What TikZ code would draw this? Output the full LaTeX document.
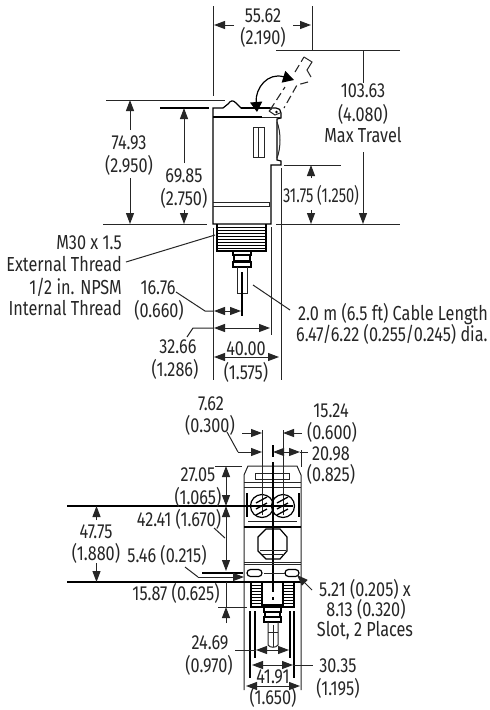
\documentclass[tikz,border=0pt]{standalone}
\usepackage{fontspec}
\setmainfont[FakeStretch=0.80,Numbers=Proportional]{Fira Sans}
\newfontfamily\tightfont[FakeStretch=0.72,Numbers=Proportional]{Fira Sans}
\usetikzlibrary{arrows.meta}
\tikzset{
  lb/.style={inner sep=0pt,font=\fontsize{20.3}{22}\selectfont,text=black!85},
  lbt/.style={inner sep=0pt,font=\tightfont\fontsize{20.3}{22}\selectfont,text=black!85},
  thin line/.style={line width=1pt,draw=black!85},
  dim/.style={line width=1pt,draw=black!85,-{Triangle[length=11pt,width=8pt]}},
  dimb/.style={line width=1pt,draw=black!85,{Triangle[length=11pt,width=8pt]}-{Triangle[length=11pt,width=8pt]}},
  outl/.style={line width=1.2pt,draw=black},
  heavy/.style={line width=2.2pt,draw=black},
  dsh/.style={line width=1.1pt,draw=black!85,dashed,dash pattern=on 8pt off 4pt},
  bighead/.style={line width=1.2pt,draw=black,{Triangle[length=10pt,width=12pt]}-{Triangle[length=11pt,width=12pt]}},
}
\begin{document}
\begin{tikzpicture}[x=1pt,y=-1pt]
\useasboundingbox[fill=white] (0,0) rectangle (490,710);
% ---------- side view: extension lines
\draw[thin line] (213,6)--(213,96);
\draw[thin line] (312,6)--(312,50);
\draw[thin line] (276,50)--(400,50);
\draw[thin line] (106,100)--(225,100);
\draw[outl] (160,108)--(209,108);
\draw[thin line] (103,224)--(207,224);
\draw[thin line] (276,224)--(400,224);
\draw[thin line] (284,165)--(341,165);
\draw[thin line] (213,228)--(213,380);
\draw[thin line] (271,227)--(271,335);
\draw[thin line] (281,168)--(281,380);
% body
\draw[outl] (213,224)--(213,108)--(223,108)--(228,104) .. controls (231,100) and (233,100) .. (236,103)--(241,108)--(276,108) .. controls (279,108) and (281,110) .. (281,113)--(281,118)--(277,119)--(277,160)--(281,161)--(281,165)--(271,165)--(271,224)--cycle;
\draw[line width=1.8pt] (241,108)--(270,108);
\draw[heavy] (213,117)--(262,117);
\draw[thin line] (262,117)--(281,117);
\draw[thin line] (253,127) rectangle (264,157);
\draw[thin line] (258.5,127)--(258.5,157);
\draw[thin line] (277,122) .. controls (281,132) and (281,148) .. (277,158);
\draw[thin line] (213,202.5)--(269,202.5)--(269,206)--(213,206);
\draw[thin line] (269,111) -- (272,108.5);
\draw[thin line] (269,111) -- (275,115) -- (280,113);
\fill (276.5,112) circle (1.3);
% handle (raised position)
\draw[dsh] (270,110)--(285,87);
\draw[dsh] (295,72)--(304,57);
\draw[thin line] (304,57)--(312,62)--(307,70)--(311,77);
\draw[dsh] (308,82)--(297,85)--(284,108);
% travel arrow
\draw[bighead] (257,112) .. controls (255,88) and (268,72) .. (294,80);
% thread
\draw[outl] (217,224)--(217,251)--(266,251)--(266,224);
\foreach \yy in {227,230,...,250} \draw[line width=1pt] (218,\yy)--(265,\yy);
\draw[line width=2pt] (217,250.5)--(266,250.5);
% stem
\draw[outl] (233,251)--(251,251)--(251,255)--(233,255)--cycle;
\draw[outl] (234,255) rectangle (250,261);
\draw[outl] (233,262) rectangle (251,267);
\draw[thin line] (237,267)--(237,293)--(247,293)--(247,267);
\draw[line width=1.8pt] (242,272)--(242,316);
% side dims
\draw[dim] (130,130)--(130,100);
\draw[dim] (130,178)--(130,224);
\draw[dim] (184,163)--(184,108);
\draw[dim] (184,210)--(184,224);
\draw[dim] (234,25)--(214,25);
\draw[dim] (293,25)--(311,25);
\draw[thin line] (363,50)--(363,83);
\draw[dim] (363,152)--(363,224);
\draw[dim] (311,178)--(311,165);
\draw[dim] (311,210)--(311,224);
\draw[thin line] (126,262)--(215,235);
\draw[thin line] (253,285)--(290,310);
\draw[thin line] (176,292)--(205,311)--(213,311);
\draw[dimb] (214,311)--(241,311);
\draw[thin line] (187,337)--(193,328)--(213,328);
\draw[dimb] (214,328)--(270,328);
\draw[dimb] (214,357)--(279,357);
% ---------- side labels
\node[lb] (a1) at (263,16) {55.62};
\node[lb] (a2) at (263,37) {(2.190)};
\node[lb] (b1) at (363,91) {103.63};
\node[lb] (b2) at (363,114) {(4.080)};
\node[lb] (b3) at (363,135) {Max Travel};
\node[lb] (c1) at (129,143) {74.93};
\node[lb] (c2) at (129,165) {(2.950)};
\node[lb] (d1) at (184,176) {69.85};
\node[lb] (d2) at (184,198) {(2.750)};
\node[lbt] (e1) at (321,195) {31.75 (1.250)};
\node[lb,anchor=east] (f1) at (122,243) {M30 x 1.5};
\node[lb,anchor=east] (f2) at (122,264) {External Thread};
\node[lb,anchor=east] (f3) at (122,287) {1/2 in. NPSM};
\node[lb,anchor=east] (f4) at (122,308) {Internal Thread};
\node[lb] (g1) at (158,288) {16.76};
\node[lb] (g2) at (159,310) {(0.660)};
\node[lb] (h1) at (178,347) {32.66};
\node[lb] (h2) at (175,369) {(1.286)};
\node[lb] (i1) at (246,349) {40.00};
\node[lb] (i2) at (246,372) {(1.575)};
\node[lb,anchor=west] (j1) at (298,314) {2.0 m (6.5 ft) Cable Length};
\node[lb,anchor=west] (j2) at (296,334) {6.47/6.22 (0.255/0.245) dia.};
% ---------- front view
\draw[thin line] (244,690)--(244,475)--(248,466)--(297,466)--(301,475)--(301,690);
\draw[thin line] (215,466)--(242,466);
\draw[thin line] (301,450)--(301,467);
\draw[thin line] (244,482)--(301,482);
\draw[thin line] (244,487)--(301,487);
\draw[thin line] (255,473)--(255,479)--(289,479)--(289,473);
\draw[thin line] (255,473)--(289,473);
\draw[heavy] (67,506)--(293,506);
\draw[line width=1.6pt] (247,493)--(247,517);
\draw[line width=1.6pt] (299,493)--(299,517);
\draw[thin line] (248,521.5)--(297,521.5);
\draw[line width=1.5pt] (244,527)--(301,527);
\draw[outl] (262,506) circle (11.5);
\draw[outl] (283,506) circle (11.5);
\draw[thin line] (262,430)--(262,515);
\draw[thin line] (283,430)--(283,515);
\foreach \cx in {262,283} \foreach \dy in {-6,0,6}
  \draw[line width=1.3pt] (\cx-6,506+\dy+3)--(\cx+5,506+\dy-3);
\draw[line width=1.6pt] (273,445)--(273,457);
\draw[line width=1.6pt] (273,462)--(273,592);
\draw[outl] (266,529)--(280,529)--(287,537)--(287,551)--(280,559)--(266,559)--(258,551)--(258,537)--cycle;
\draw[thin line] (260,550)--(286,550);
\draw[thin line] (262,554)--(284,554);
\draw[thin line] (244,562)--(301,562);
\draw[thin line] (244,564.5)--(301,564.5);
\draw[outl,rounded corners=3.5pt] (247,569.5) rectangle (262,576.5);
\draw[outl,rounded corners=3.5pt] (285,569.5) rectangle (299,576.5);
\draw[thin line] (264,573)--(285,573);
\draw[line width=1.7pt] (202,573)--(243,573);
\draw[thin line] (185,567)--(198,577);
\draw[dim] (198,577)--(244,577);
\draw[line width=1.2pt] (67,582)--(301,582);
% threads, front
\foreach \xa/\xb in {251/262,283/294}{
  \draw[outl] (\xa,582) rectangle (\xb,607);
  \foreach \yy in {585,588,...,606} \draw[line width=1pt] (\xa,\yy)--(\xb,\yy);
}
\draw[outl] (262,582) rectangle (283,605);
\fill (272,597) rectangle (274,600);
\draw[outl] (264,607) rectangle (281,612);
\draw[outl] (265,612) rectangle (280,617);
\draw[outl] (264,617) rectangle (281,622);
\draw[thin line] (268,622)--(268,645) .. controls (270,648) and (276,648) .. (278,645)--(278,622);
\draw[thin line] (273,625)--(273,647);
\draw[thin line] (268,632)--(278,632);
\draw[line width=1.6pt] (255,611)--(255,658);
\draw[line width=1.6pt] (290,611)--(290,658);
\draw[line width=1.6pt] (250,611)--(250,678);
\draw[line width=1.6pt] (294,611)--(294,678);
% front dims
\draw[thin line] (218,607)--(247,607);
\draw[dim] (242,433)--(262,433);
\draw[dim] (302,433)--(283,433);
\draw[thin line] (227,432)--(238,452);
\draw[dim] (238,452)--(262,452);
\draw[dimb] (273,452)--(300,452);
\draw[thin line] (300,452)--(308,452);
\draw[dim] (226,490)--(226,466);
\draw[dim] (226,490)--(226,506);
\draw[dim] (226,530)--(226,506);
\draw[dim] (226,530)--(226,571);
\draw[thin line] (226,582)--(226,607);
\draw[dim] (226,623)--(226,607);
\draw[thin line] (214,528)--(225,538);
\draw[dim] (96.5,520)--(96.5,506);
\draw[dim] (96.5,563)--(96.5,582);
\draw[dim] (312,590)--(297,575);
\draw[thin line] (235,650)--(256,650);
\draw[dimb] (256,650)--(289,650);
\draw[dimb] (252,665)--(293,665);
\draw[thin line] (293,665)--(313,665);
\draw[dimb] (246,686)--(300,686);
% front labels
\node[lb] (k1) at (211,404) {7.62};
\node[lb] (k2) at (210,425) {(0.300)};
\node[lb] (l1) at (331,411) {15.24};
\node[lb] (l2) at (332,432) {(0.600)};
\node[lb] (m1) at (331,454) {20.98};
\node[lb] (m2) at (331,474) {(0.825)};
\node[lb] (n1) at (198,475) {27.05};
\node[lb] (n2) at (198,497) {(1.065)};
\node[lb] (o1) at (179,519) {42.41 (1.670)};
\node[lb] (p1) at (96,532) {47.75};
\node[lb] (p2) at (96,553) {(1.880)};
\node[lb] (q1) at (167,555) {5.46 (0.215)};
\node[lb] (r1) at (176,593) {15.87 (0.625)};
\node[lb] (s1) at (210,643) {24.69};
\node[lb] (s2) at (209,665) {(0.970)};
\node[lb] (t1) at (273,677) {41.91};
\node[lb] (t2) at (273,697.5) {(1.650)};
\node[lb] (u1) at (338,666) {30.35};
\node[lb] (u2) at (338,688) {(1.195)};
\node[lb] (v1) at (365,589) {5.21 (0.205) x};
\node[lb] (v2) at (366,609) {8.13 (0.320)};
\node[lb] (v3) at (365,631) {Slot, 2 Places};
\end{tikzpicture}
\end{document}
